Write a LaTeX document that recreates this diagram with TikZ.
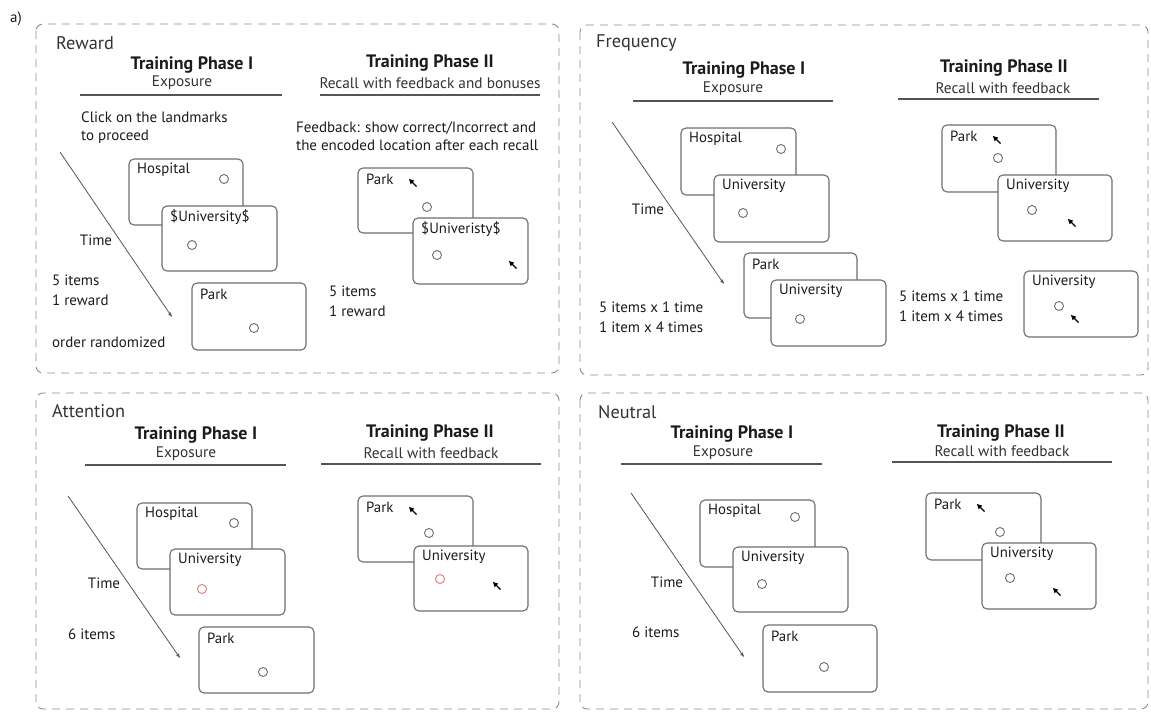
\documentclass[tikz,border=0pt]{standalone}
\usepackage{fontspec}
\setmainfont{PT Sans}
\usetikzlibrary{arrows.meta}

\definecolor{ink}{HTML}{1E1A1B}
\definecolor{dashgray}{HTML}{8C8C8C}
\definecolor{cardgray}{HTML}{6E6E6E}
\definecolor{rulegray}{HTML}{555555}
\definecolor{attnred}{HTML}{E07A7A}

\tikzset{
  panel/.style={draw=dashgray, line width=0.9pt, dash pattern=on 8pt off 6pt, rounded corners=7pt},
  card/.style={draw=cardgray, fill=white, line width=1.1pt, rounded corners=5pt,
    anchor=north west, inner sep=0pt, outer sep=0pt},
  cardtext/.style={anchor=west, inner sep=0pt, text=ink, font=\fontsize{14.8}{17}\selectfont},
  dot/.style={circle, draw=cardgray, line width=0.9pt, inner sep=0pt, minimum size=9pt},
  reddot/.style={dot, draw=attnred},
  heading/.style={anchor=west, inner sep=0pt, text=ink!90, font=\fontsize{18.3}{21}\selectfont},
  phase/.style={inner sep=0pt, text=ink, font=\bfseries\fontsize{18}{21}\selectfont},
  subphase/.style={inner sep=0pt, text=ink!90, font=\fontsize{15.3}{18}\selectfont},
  body/.style={anchor=west, inner sep=0pt, text=ink, align=left, font=\fontsize{15}{19}\selectfont},
  timelabel/.style={body, anchor=center},
  phaserule/.style={draw=rulegray, line width=1.2pt},
  timearrow/.style={draw=rulegray, line width=0.8pt, -{Stealth[length=5pt,width=3.5pt]}},
  pics/cursor/.style={code={
    \fill[black] (-4,-4) -- (1.2,-2.4) -- (-2.4,1.2) -- cycle;
    \draw[black, line width=1.3pt] (-2,-2) -- (3.5,3.5);
  }}
}

% a screen card: name, left, top, right, bottom, label
\newcommand{\taskcard}[6]{%
  \node[card, minimum width={#4-#2}, minimum height={#5-#3}] (#1) at (#2,#3) {};
  \node[cardtext] (#1-t) at ([xshift=8pt,yshift=-11pt]#1.north west) {#6};
}
% a landmark marker: name, x, y, style
\newcommand{\landmark}[4]{\node[#4] (#1) at (#2,#3) {};}

\begin{document}
\begin{tikzpicture}[x=1pt, y=-1pt]
\useasboundingbox (0,0) rectangle (1151,713);

\node[body] (lbl-a) at (10,19) {a)};

% ---------------- Reward ----------------
\draw[panel] (36,24) rectangle (559,373);
\node[heading] (r-head) at (56,43) {Reward};
\node[phase] (r-p1) at (192,65) {Training Phase I};
\node[subphase] (r-p1s) at (182,83) {Exposure};
\draw[phaserule] (80,95) -- (282,95);
\node[body, font=\fontsize{15}{18}\selectfont] (r-click) at (81,128) {Click on the landmarks\\to proceed};
\coordinate (r-ts) at (60,152);
\coordinate (r-te) at (172,317);
\draw[timearrow] (r-ts) -- (r-te);
\node[timelabel] (r-time) at (96,240) {Time};
\node[body, font=\fontsize{15}{20}\selectfont] (r-count) at (52,290) {5 items\\1 reward};
\node[body] (r-order) at (52,342) {order randomized};
\taskcard{r-hosp}{129}{159}{243}{225}{Hospital}
\landmark{r-hosp-d}{224}{179}{dot}
\taskcard{r-univ}{162}{206}{277}{271}{\$University\$}
\landmark{r-univ-d}{192}{245}{dot}
\taskcard{r-park}{192}{283}{306}{350}{Park}
\landmark{r-park-d}{254}{328}{dot}

\node[phase] (r-p2) at (430,63) {Training Phase II};
\node[subphase] (r-p2s) at (430,83) {Recall with feedback and bonuses};
\draw[phaserule] (320,95) -- (540,95);
\node[body, font=\fontsize{15}{18}\selectfont] (r-fb) at (296,136) {Feedback: show correct/Incorrect and\\the encoded location after each recall};
\taskcard{r-park2}{358}{168}{473}{233}{Park}
\pic (r-park2-c) at (413,183) {cursor};
\landmark{r-park2-d}{427}{207}{dot}
\taskcard{r-univ2}{413}{218}{528}{284}{\$Univeristy\$}
\landmark{r-univ2-d}{437}{255}{dot}
\pic (r-univ2-c) at (513,265) {cursor};
\node[body, font=\fontsize{15}{20}\selectfont] (r-count2) at (329,301) {5 items\\1 reward};

% ---------------- Frequency ----------------
\draw[panel] (580,25) rectangle (1148,375);
\node[heading] (f-head) at (596,43) {Frequency};
\node[phase] (f-p1) at (744,70) {Training Phase I};
\node[subphase] (f-p1s) at (733,89) {Exposure};
\draw[phaserule] (633,101) -- (833,101);
\coordinate (f-ts) at (612,122);
\coordinate (f-te) at (724,284);
\draw[timearrow] (f-ts) -- (f-te);
\node[timelabel] (f-time) at (648,209) {Time};
\taskcard{f-hosp}{681}{128}{796}{195}{Hospital}
\landmark{f-hosp-d}{781}{149}{dot}
\taskcard{f-univ}{714}{175}{829}{242}{University}
\landmark{f-univ-d}{743}{213}{dot}
\taskcard{f-park}{744}{253}{857}{318}{Park}
\taskcard{f-univb}{771}{280}{886}{346}{University}
\landmark{f-univb-d}{800}{319}{dot}
\node[body, font=\fontsize{15}{20}\selectfont] (f-count) at (599,317) {5 items x 1 time\\1 item x 4 times};

\node[phase] (f-p2) at (1004,68) {Training Phase II};
\node[subphase] (f-p2s) at (1003,88) {Recall with feedback};
\draw[phaserule] (898,99) -- (1099,99);
\taskcard{f-park2}{942}{125}{1056}{192}{Park}
\pic (f-park2-c) at (997,140) {cursor};
\landmark{f-park2-d}{998}{158}{dot}
\taskcard{f-univ2}{998}{175}{1112}{241}{University}
\landmark{f-univ2-d}{1032}{210}{dot}
\pic (f-univ2-c) at (1072,223) {cursor};
\node[body, font=\fontsize{15}{20}\selectfont] (f-count2) at (899,306) {5 items x 1 time\\1 item x 4 times};
\taskcard{f-univ3}{1024}{271}{1138}{337}{University}
\landmark{f-univ3-d}{1059}{306}{dot}
\pic (f-univ3-c) at (1075,319) {cursor};

% ---------------- Attention ----------------
\draw[panel] (36,393) rectangle (559,709);
\node[heading] (a-head) at (52,411) {Attention};
\node[phase] (a-p1) at (196,435) {Training Phase I};
\node[subphase] (a-p1s) at (186,454) {Exposure};
\draw[phaserule] (85,465) -- (286,465);
\coordinate (a-ts) at (68,496);
\coordinate (a-te) at (180,658);
\draw[timearrow] (a-ts) -- (a-te);
\node[timelabel] (a-time) at (104,583) {Time};
\node[body] (a-count) at (68,634) {6 items};
\taskcard{a-hosp}{137}{503}{252}{569}{Hospital}
\landmark{a-hosp-d}{234}{523}{dot}
\taskcard{a-univ}{170}{549}{285}{615}{University}
\landmark{a-univ-d}{202}{589}{reddot}
\taskcard{a-park}{199}{627}{314}{693}{Park}
\landmark{a-park-d}{263}{672}{dot}

\node[phase] (a-p2) at (430,433) {Training Phase II};
\node[subphase] (a-p2s) at (431,453) {Recall with feedback};
\draw[phaserule] (321,464) -- (541,464);
\taskcard{a-park2}{358}{496}{473}{562}{Park}
\pic (a-park2-c) at (413,511) {cursor};
\landmark{a-park2-d}{429}{533}{dot}
\taskcard{a-univ2}{414}{546}{528}{611}{University}
\landmark{a-univ2-d}{440}{579}{reddot}
\pic (a-univ2-c) at (497,586) {cursor};

% ---------------- Neutral ----------------
\draw[panel] (580,393) rectangle (1148,709);
\node[heading] (n-head) at (598,412) {Neutral};
\node[phase] (n-p1) at (732,434) {Training Phase I};
\node[subphase] (n-p1s) at (723,453) {Exposure};
\draw[phaserule] (621,464) -- (822,464);
\coordinate (n-ts) at (631,493);
\coordinate (n-te) at (744,657);
\draw[timearrow] (n-ts) -- (n-te);
\node[timelabel] (n-time) at (667,582) {Time};
\node[body] (n-count) at (632,632) {6 items};
\taskcard{n-hosp}{700}{500}{815}{567}{Hospital}
\landmark{n-hosp-d}{795}{517}{dot}
\taskcard{n-univ}{733}{547}{848}{612}{University}
\landmark{n-univ-d}{762}{584}{dot}
\taskcard{n-park}{763}{625}{877}{692}{Park}
\landmark{n-park-d}{824}{667}{dot}

\node[phase] (n-p2) at (1001,433) {Training Phase II};
\node[subphase] (n-p2s) at (1002,451) {Recall with feedback};
\draw[phaserule] (892,462) -- (1112,462);
\taskcard{n-park2}{926}{493}{1041}{560}{Park}
\pic (n-park2-c) at (981,508) {cursor};
\landmark{n-park2-d}{1000}{532}{dot}
\taskcard{n-univ2}{982}{543}{1096}{609}{University}
\landmark{n-univ2-d}{1010}{578}{dot}
\pic (n-univ2-c) at (1057,592) {cursor};

\end{tikzpicture}
\end{document}
